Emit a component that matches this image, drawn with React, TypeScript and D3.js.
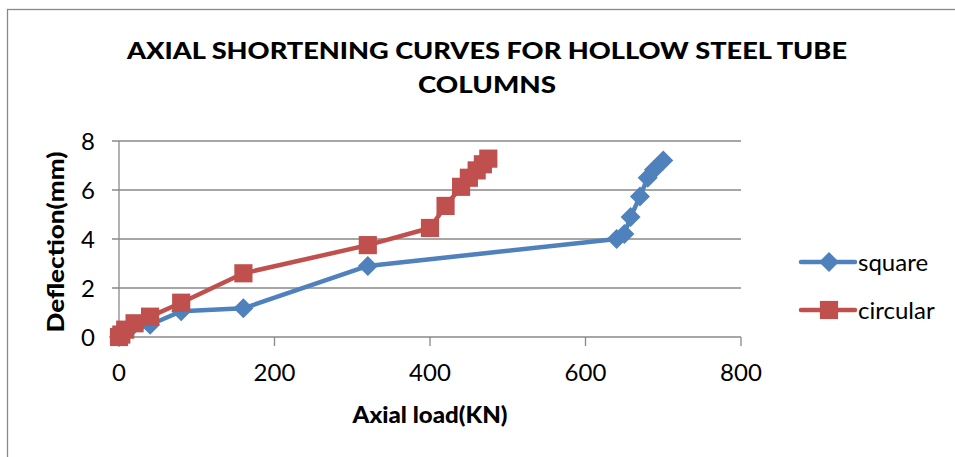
import React from "react";
import * as d3 from "d3";

const xTicks = [0, 200, 400, 600, 800];
const yTicks = [0, 2, 4, 6, 8];

const squareLoad = [0, 10, 40, 80, 160, 320, 640, 650, 658, 670, 680, 688, 700];
const squareDefl = [0, 0.2, 0.5, 1.05, 1.17, 2.9, 4.0, 4.2, 4.9, 5.73, 6.5, 6.83, 7.2];

const circularLoad = [0, 3, 8, 20, 40, 80, 160, 320, 400, 420, 440, 450, 460, 468, 475];
const circularDefl = [0, 0.1, 0.3, 0.56, 0.83, 1.4, 2.6, 3.75, 4.45, 5.35, 6.13, 6.5, 6.8, 7.05, 7.28];

const seriesNames = ["square", "circular"];
const titleLines = ["AXIAL SHORTENING CURVES FOR HOLLOW STEEL TUBE", "COLUMNS"];
const xTitle = "Axial load(KN)";
const yTitle = "Deflection(mm)";

const BLUE = "#4F81BD";
const RED = "#C0504D";
const GRID = "#898989";
const FONT = "Lato, 'Open Sans', sans-serif";

export default function App() {
  const x = d3.scaleLinear().domain([0, 800]).range([119, 741]);
  const y = d3.scaleLinear().domain([0, 8]).range([337, 141]);

  const sq = squareLoad.map((v, i) => [v, squareDefl[i]] as [number, number]);
  const ci = circularLoad.map((v, i) => [v, circularDefl[i]] as [number, number]);

  const line = d3
    .line<[number, number]>()
    .x((d) => x(d[0]))
    .y((d) => y(d[1]));

  const squareSym = d3.symbol().type(d3.symbolSquare).size(330)()!;
  const diamondSym = d3.symbol().type(d3.symbolSquare).size(200)()!;

  return (
    <svg
      width={955}
      height={457}
      style={{ position: "absolute", left: 0, top: 0, background: "#fff" }}
      fontFamily={FONT}
    >
      <rect x={0} y={0} width={955} height={457} fill="#fff" />
      <rect x={7.5} y={9.5} width={1200} height={1200} fill="none" stroke={GRID} strokeWidth={1.3} />

      {titleLines.map((t, i) => (
        <text
          key={i}
          x={487}
          y={59 + i * 34}
          textAnchor="middle"
          fontWeight={900}
          fontSize={23.5}
          textLength={i === 0 ? 720 : 138}
          lengthAdjust="spacingAndGlyphs"
          fill="#000"
        >
          {t}
        </text>
      ))}

      {/* gridlines */}
      {yTicks.map((t) => (
        <line
          key={"g" + t}
          x1={112}
          x2={741}
          y1={y(t)}
          y2={y(t)}
          stroke={GRID}
          strokeWidth={1.3}
        />
      ))}
      {/* y axis */}
      <line x1={x(0)} x2={x(0)} y1={y(8)} y2={346} stroke={GRID} strokeWidth={1.3} />
      {/* x ticks */}
      {xTicks.map((t) => (
        <line key={"xt" + t} x1={x(t)} x2={x(t)} y1={y(0)} y2={346} stroke={GRID} strokeWidth={1.3} />
      ))}

      {yTicks.map((t) => (
        <text key={"yl" + t} x={95} y={y(t) + 8.5} textAnchor="end" fontSize={24} fill="#000">
          {t}
        </text>
      ))}
      {xTicks.map((t) => (
        <text key={"xl" + t} x={x(t)} y={380.5} textAnchor="middle" fontSize={24} fill="#000">
          {t}
        </text>
      ))}

      <text
        x={430}
        y={423}
        textAnchor="middle"
        fontWeight={900}
        fontSize={23}
        textLength={155}
        lengthAdjust="spacingAndGlyphs"
        fill="#000"
      >
        {xTitle}
      </text>
      <text
        transform={`translate(64,242) rotate(-90)`}
        textAnchor="middle"
        fontWeight={900}
        fontSize={23}
        textLength={181}
        lengthAdjust="spacingAndGlyphs"
        fill="#000"
      >
        {yTitle}
      </text>

      {/* square series */}
      <path d={line(sq)!} fill="none" stroke={BLUE} strokeWidth={4.5} strokeLinejoin="round" />
      {sq.map((d, i) => (
        <path
          key={"s" + i}
          d={diamondSym}
          transform={`translate(${x(d[0])},${y(d[1])}) rotate(45)`}
          fill={BLUE}
        />
      ))}

      {/* circular series */}
      <path d={line(ci)!} fill="none" stroke={RED} strokeWidth={4.5} strokeLinejoin="round" />
      {ci.map((d, i) => (
        <path key={"c" + i} d={squareSym} transform={`translate(${x(d[0])},${y(d[1])})`} fill={RED} />
      ))}

      {/* legend */}
      {seriesNames.map((n, i) => {
        const ly = 262 + i * 48;
        const color = i === 0 ? BLUE : RED;
        return (
          <g key={n}>
            <line x1={801} x2={855} y1={ly} y2={ly} stroke={color} strokeWidth={4.5} strokeLinecap="round" />
            {i === 0 ? (
              <path d={diamondSym} transform={`translate(829,${ly}) rotate(45)`} fill={color} />
            ) : (
              <path d={squareSym} transform={`translate(829,${ly})`} fill={color} />
            )}
            <text x={858} y={ly + 8.5} fontSize={24} fill="#000">
              {n}
            </text>
          </g>
        );
      })}
    </svg>
  );
}
